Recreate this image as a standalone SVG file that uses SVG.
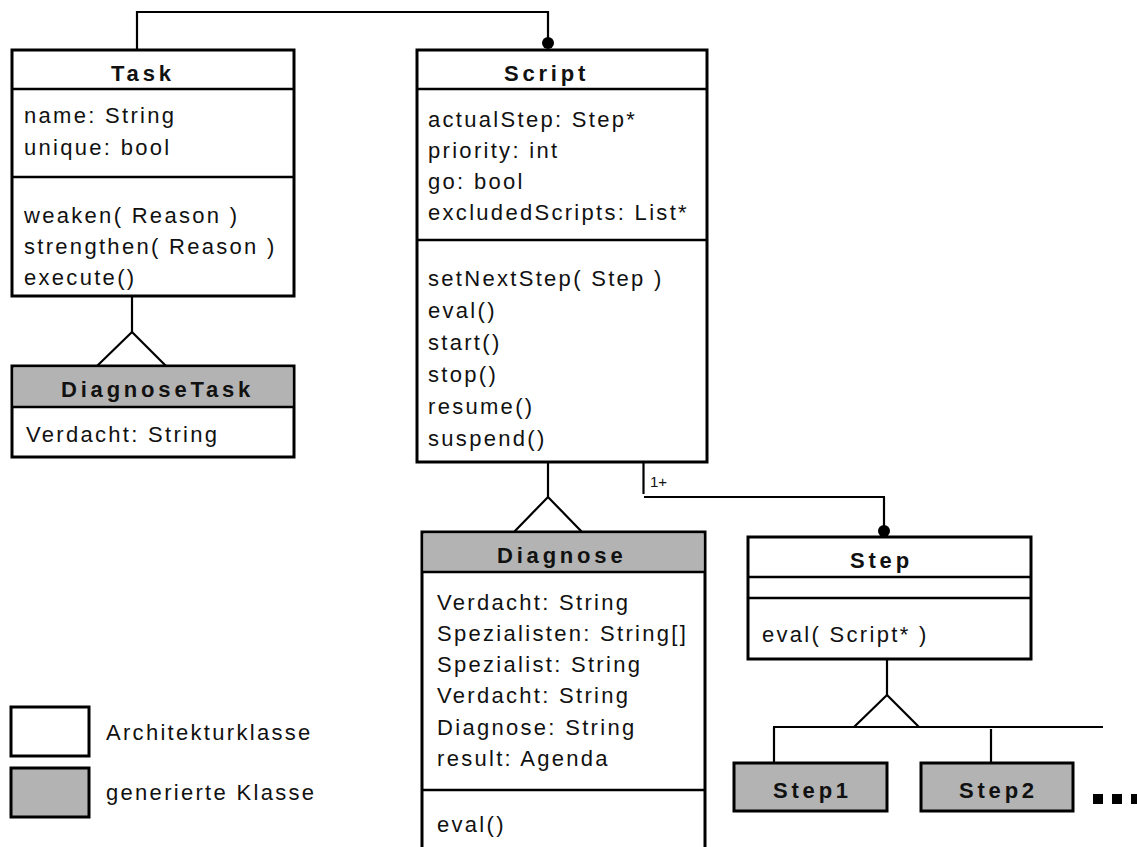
<svg xmlns="http://www.w3.org/2000/svg" width="1137" height="847" viewBox="0 0 1137 847">
<style>
.box{fill:#fff;stroke:#000;stroke-width:3}
.gbox{fill:#b3b3b3;stroke:#000;stroke-width:3}
.gfill{fill:#b3b3b3;stroke:none}
.div{stroke:#000;stroke-width:2.4;fill:none}
.con{stroke:#000;stroke-width:2.2;fill:none}
.t{font-family:"Liberation Sans",Arial,sans-serif;font-size:22px;letter-spacing:2.3px;fill:#111}
.h{font-family:"Liberation Sans",Arial,sans-serif;font-size:22px;font-weight:bold;letter-spacing:3.8px;fill:#111}
.s{font-family:"Liberation Sans",Arial,sans-serif;font-size:15px;fill:#111}
</style>
<rect width="1137" height="847" fill="#fff"/>
<g id="connectors">
<path class="con" d="M137,50 V12 H548 V43"/>
<circle cx="548" cy="43" r="6" fill="#000"/>
<line class="con" x1="132" y1="296" x2="132" y2="332"/>
<polyline class="con" points="97,366 132,332 166,366"/>
<line class="con" x1="548" y1="462" x2="548" y2="497"/>
<polyline class="con" points="514,532 548,497 582,532"/>
<line class="con" x1="643.5" y1="462" x2="643.5" y2="494"/>
<line class="con" x1="644" y1="497" x2="885" y2="497"/>
<line class="con" x1="884" y1="497" x2="884" y2="531"/>
<circle cx="884" cy="531" r="6" fill="#000"/>
<text class="s" x="650" y="487">1+</text>
<line class="con" x1="887" y1="659" x2="887" y2="695"/>
<polyline class="con" points="854,727 887,695 919,727"/>
<line class="con" x1="773" y1="727" x2="1103" y2="727"/>
<line class="con" x1="774" y1="727" x2="774" y2="763"/>
<line class="con" x1="991" y1="729" x2="991" y2="763"/>
</g>
<g id="Task">
<rect class="box" x="12" y="50" width="282" height="246"/>
<line class="div" x1="12" y1="89" x2="294" y2="89"/>
<line class="div" x1="12" y1="177" x2="294" y2="177"/>
<text class="h" x="111" y="81">Task</text>
<text class="t" x="24" y="123">name: String</text>
<text class="t" x="24" y="155">unique: bool</text>
<text class="t" x="24" y="223">weaken( Reason )</text>
<text class="t" x="24" y="254">strengthen( Reason )</text>
<text class="t" x="24" y="285">execute()</text>
</g>
<g id="DiagnoseTask">
<rect class="box" x="12" y="366" width="282" height="91"/>
<rect class="gfill" x="13.5" y="367.5" width="279" height="39.5"/>
<line class="div" x1="12" y1="407" x2="294" y2="407"/>
<text class="h" x="61" y="397">DiagnoseTask</text>
<text class="t" x="26" y="442">Verdacht: String</text>
</g>
<g id="Script">
<rect class="box" x="417" y="50" width="290" height="412"/>
<line class="div" x1="417" y1="89" x2="707" y2="89"/>
<line class="div" x1="417" y1="240" x2="707" y2="240"/>
<text class="h" x="504" y="81">Script</text>
<text class="t" x="428" y="127">actualStep: Step*</text>
<text class="t" x="428" y="158">priority: int</text>
<text class="t" x="428" y="189">go: bool</text>
<text class="t" x="428" y="220">excludedScripts: List*</text>
<text class="t" x="428" y="286">setNextStep( Step )</text>
<text class="t" x="428" y="318">eval()</text>
<text class="t" x="428" y="350">start()</text>
<text class="t" x="428" y="382">stop()</text>
<text class="t" x="428" y="414">resume()</text>
<text class="t" x="428" y="446">suspend()</text>
</g>
<g id="Diagnose">
<rect class="box" x="422" y="532" width="283" height="330"/>
<rect class="gfill" x="423.5" y="533.5" width="280" height="38.5"/>
<line class="div" x1="422" y1="572" x2="705" y2="572"/>
<line class="div" x1="422" y1="790" x2="705" y2="790"/>
<text class="h" x="497" y="563">Diagnose</text>
<text class="t" x="437" y="610">Verdacht: String</text>
<text class="t" x="437" y="641">Spezialisten: String[]</text>
<text class="t" x="437" y="672">Spezialist: String</text>
<text class="t" x="437" y="703">Verdacht: String</text>
<text class="t" x="437" y="735">Diagnose: String</text>
<text class="t" x="437" y="766">result: Agenda</text>
<text class="t" x="437" y="832">eval()</text>
</g>
<g id="Step">
<rect class="box" x="748" y="537" width="283" height="122"/>
<line class="div" x1="748" y1="577" x2="1031" y2="577"/>
<line class="div" x1="748" y1="598" x2="1031" y2="598"/>
<text class="h" x="850" y="568">Step</text>
<text class="t" x="762" y="642">eval( Script* )</text>
</g>
<g id="Step1">
<rect class="gbox" x="734" y="763" width="153" height="48"/>
<text class="h" x="773" y="798">Step1</text>
</g>
<g id="Step2">
<rect class="gbox" x="921" y="763" width="152" height="48"/>
<text class="h" x="959" y="798">Step2</text>
</g>
<g id="ellipsis">
<rect x="1093" y="794" width="10" height="10" fill="#000"/>
<rect x="1112" y="794" width="10" height="10" fill="#000"/>
<rect x="1131" y="794" width="10" height="10" fill="#000"/>
</g>
<g id="legend">
<rect class="box" x="11" y="707" width="78" height="49"/>
<rect class="gbox" x="11" y="768" width="78" height="49"/>
<text class="t" x="106" y="740">Architekturklasse</text>
<text class="t" x="106" y="800">generierte Klasse</text>
</g>
</svg>
